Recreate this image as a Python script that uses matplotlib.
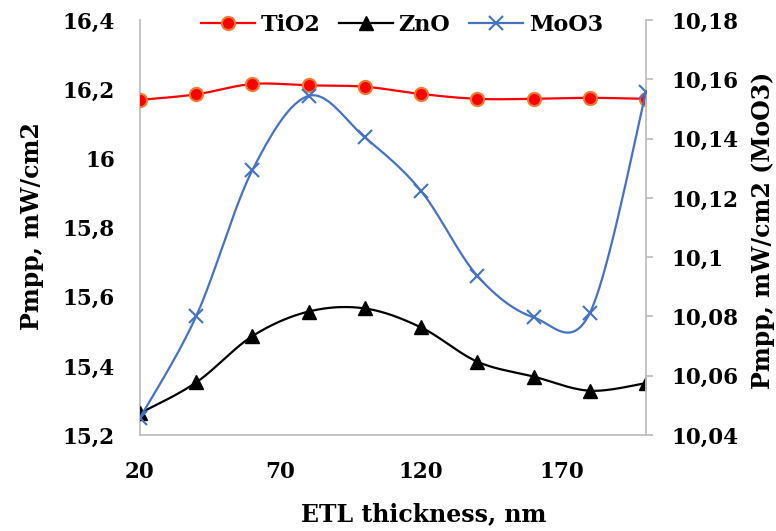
import numpy as np
import matplotlib
matplotlib.use("Agg")
import matplotlib.pyplot as plt
from matplotlib.lines import Line2D

# ---- data ----
thickness = [20, 40, 60, 80, 100, 120, 140, 160, 180, 200]
tio2 = [16.169, 16.185, 16.215, 16.211, 16.207, 16.186, 16.172, 16.172, 16.175, 16.172]
zno = [15.263, 15.352, 15.486, 15.557, 15.566, 15.511, 15.412, 15.369, 15.328, 15.350]
moo3 = [10.0458, 10.0801, 10.1294, 10.1544, 10.1404, 10.1223, 10.0937, 10.0797, 10.0811, 10.1556]

x_ticks = [20, 70, 120, 170]
left_ticks = [15.2, 15.4, 15.6, 15.8, 16.0, 16.2, 16.4]
left_labels = ["15,2", "15,4", "15,6", "15,8", "16", "16,2", "16,4"]
right_ticks = [10.04, 10.06, 10.08, 10.10, 10.12, 10.14, 10.16, 10.18]
right_labels = ["10,04", "10,06", "10,08", "10,1", "10,12", "10,14", "10,16", "10,18"]

series_names = ["TiO2", "ZnO", "MoO3"]


def smooth(xs, ys, n=40):
    """Excel-like smoothed line (Catmull-Rom style Bezier)."""
    P = np.column_stack([xs, ys]).astype(float)
    out = []
    m = len(P)
    for i in range(m - 1):
        p0 = P[i - 1] if i > 0 else P[i]
        p1 = P[i]
        p2 = P[i + 1]
        p3 = P[i + 2] if i + 2 < m else P[i + 1]
        c1 = p1 + (p2 - p0) / 6.0
        c2 = p2 - (p3 - p1) / 6.0
        t = np.linspace(0, 1, n)[:, None]
        seg = ((1 - t) ** 3) * p1 + 3 * ((1 - t) ** 2) * t * c1 + 3 * (1 - t) * t ** 2 * c2 + t ** 3 * p2
        if i > 0:
            seg = seg[1:]
        out.append(seg)
    out = np.vstack(out)
    return out[:, 0], out[:, 1]


plt.rcParams['font.family'] = ['DejaVu Serif']
plt.rcParams['font.weight'] = 'bold'
FS_TICK = 15.5
FS_LEG = 16
FS_TITLE = 17

W, H = 776, 531
L, R, T, B = 140, 646, 20, 435

fig = plt.figure(figsize=(7.76, 5.31), dpi=100)
ax = fig.add_axes([L / W, 1 - B / H, (R - L) / W, (B - T) / H])
ax2 = ax.twinx()

gray = "#BFBFBF"
red = "#FF0000"
orange = "#ED7D31"
blue = "#4472C4"

# TiO2
sx, sy = smooth(thickness, tio2)
ax.plot(sx, sy, color=red, lw=1.6, zorder=3)
ax.plot(thickness, tio2, ls='none', marker='o', ms=9.5, mfc=red, mec=orange, mew=1.5, zorder=4)
# ZnO
sx, sy = smooth(thickness, zno)
ax.plot(sx, sy, color="black", lw=1.6, zorder=3)
ax.plot(thickness, zno, ls='none', marker='^', ms=9.5, mfc="black", mec="black", zorder=4)
# MoO3
sx, sy = smooth(thickness, moo3)
ax2.plot(sx, sy, color=blue, lw=1.6, zorder=3)
ax2.plot(thickness, moo3, ls='none', marker='x', ms=10, mec=blue, mew=1.5, zorder=4)

ax.set_xlim(20, 200)
ax.set_ylim(15.2, 16.4)
ax2.set_ylim(10.04, 10.18)

ax.set_xticks(x_ticks)
ax.set_xticklabels([str(v) for v in x_ticks])
ax.set_yticks(left_ticks)
ax.set_yticklabels(left_labels)
ax2.set_yticks(right_ticks)
ax2.set_yticklabels(right_labels)

for a in (ax, ax2):
    for s in a.spines.values():
        s.set_color(gray)
        s.set_linewidth(1.3)
    a.spines['top'].set_visible(False)
ax2.spines['left'].set_visible(False)
ax2.spines['bottom'].set_visible(False)
ax.spines['right'].set_visible(False)

ax.tick_params(axis='x', length=0, pad=18.5, labelsize=FS_TICK)
ax.tick_params(axis='y', length=0, pad=18, labelsize=FS_TICK)
ax2.tick_params(axis='y', length=5, width=1.3, color=gray, direction='out', pad=13.5, labelsize=FS_TICK)

pw, ph = R - L, B - T
ax.set_xlabel("ETL thickness, nm", fontsize=FS_TITLE, fontweight='bold')
ax.xaxis.set_label_coords((423.5 - L) / pw, (B - 502) / ph)
ax.set_ylabel("Pmpp, mW/cm2", fontsize=FS_TITLE, fontweight='bold')
ax.yaxis.set_label_coords((44 - L) / pw, (B - 226) / ph)
ax2.set_ylabel("Pmpp, mW/cm2 (MoO3)", fontsize=FS_TITLE, fontweight='bold')
ax2.yaxis.set_label_coords((751 - L) / pw, (B - 230) / ph)

handles = [
    Line2D([], [], color=red, lw=1.6, marker='o', ms=9.5, mfc=red, mec=orange, mew=1.5),
    Line2D([], [], color="black", lw=1.6, marker='^', ms=9.5, mfc="black", mec="black"),
    Line2D([], [], color=blue, lw=1.6, marker='x', ms=10, mec=blue, mew=1.5),
]
leg = ax2.legend(handles, series_names, loc='center', bbox_to_anchor=((402 - L) / pw, (B - 25) / ph),
                 ncol=3, frameon=False, fontsize=FS_LEG, handlelength=2.4, handletextpad=0.27,
                 columnspacing=0.85, borderaxespad=0, borderpad=0)
for t in leg.get_texts():
    t.set_fontweight('bold')

fig.savefig("out.png", dpi=100)
